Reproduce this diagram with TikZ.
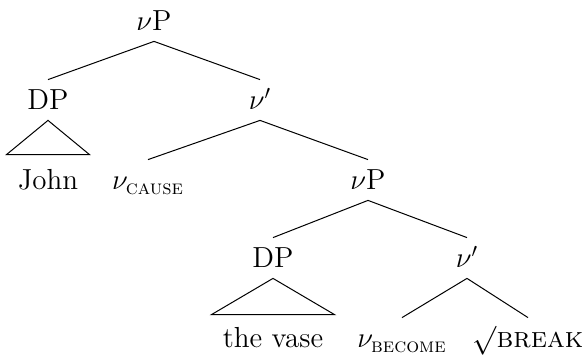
\documentclass[tikz,border=0pt]{standalone}
\usepackage{amsmath}
\usepackage{tikz}
\tikzstyle{cat}    = [anchor=base, inner xsep=0pt, inner ysep=5pt, text height=10pt, text depth=0pt]
\tikzstyle{branch} = [line width=0.5pt]

\begin{document}
\begin{tikzpicture}[x=0.5pt, y=-0.5pt, font=\fontsize{14.5}{17}\selectfont]
		\useasboundingbox (0,0) rectangle (584,357);

		\node[cat] (vP)      at (154,31)  {$\nu$P};
		\node[cat] (DP)      at (48,110)  {DP};
		\node[cat] (vbar)    at (260,110) {$\nu'$};
		\node[cat] (John)    at (48,190)  {John};
		\node[cat] (vcause)  at (148,190) {$\nu_{\textsc{cause}}$};
		\node[cat] (vPlow)   at (368,190) {$\nu$P};
		\node[cat] (DPlow)   at (273,268) {DP};
		\node[cat] (vbarlow) at (467,268) {$\nu'$};
		\node[cat] (vase)    at (273,348) {the vase};
		\node[cat] (vbecome) at (402,348) {$\nu_{\textsc{become}}$};
		\node[cat] (break)   at (528,348) {$\surd$\textsc{break}};

		\draw[branch] (vP.south) -- (DP.north);
		\draw[branch] (vP.south) -- (vbar.north);
		\draw[branch] (vbar.south) -- (vcause.north);
		\draw[branch] (vbar.south) -- (vPlow.north);
		\draw[branch] (vPlow.south) -- (DPlow.north);
		\draw[branch] (vPlow.south) -- (vbarlow.north);
		\draw[branch] (vbarlow.south) -- (vbecome.north);
		\draw[branch] (vbarlow.south) -- (break.north);

		% roofs
		\draw[branch] (DP.south) -- ([xshift=-20.75pt,yshift=2.5pt]John.north) -- ([xshift=20.75pt,yshift=2.5pt]John.north) -- cycle;
		\draw[branch] (DPlow.south) -- ([xshift=-30.75pt,yshift=1.5pt]vase.north) -- ([xshift=30.75pt,yshift=1.5pt]vase.north) -- cycle;
	\end{tikzpicture}
\end{document}
